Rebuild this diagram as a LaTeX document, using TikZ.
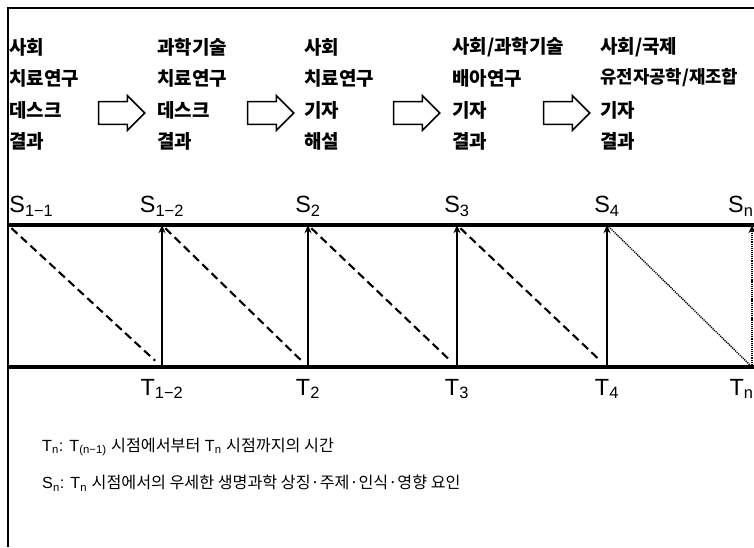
\documentclass[tikz,border=0pt]{standalone}
\usepackage{fontspec}
\setmainfont{Liberation Sans}
\newfontfamily\krfont{Noto Sans CJK KR}[BoldFont={Noto Sans CJK KR Black}]
\usetikzlibrary{shapes.arrows,arrows.meta}

\begin{document}
\begin{tikzpicture}[
  x=0.03cm, y=-0.03cm,
  head/.style={anchor=west, inner sep=0pt, font=\krfont\bfseries\fontsize{16.2}{18}\selectfont},
  stage/.style={single arrow, draw, line width=1.3pt, fill=white, minimum height=1.38cm, minimum width=1cm, inner xsep=0pt, inner ysep=0.32cm, single arrow head extend=0.18cm,
    path picture={\fill (path picture bounding box.south west) rectangle ([xshift=0.3cm]path picture bounding box.north west);}},
  slabel/.style={anchor=south, inner sep=0pt, yshift=7pt, font=\fontsize{20}{22}\selectfont},
  tlabel/.style={anchor=north, inner sep=0pt, yshift=-10pt, font=\fontsize{20}{22}\selectfont},
  note/.style={anchor=west, inner sep=0pt, font=\fontsize{13.8}{16}\selectfont},
  timeline/.style={line width=3.2pt},
  rise/.style={line width=1.8pt, -{Stealth[length=7pt,width=6pt]}},
  drift/.style={line width=1.8pt, dash pattern=on 7pt off 4pt, shorten <=4pt, shorten >=8pt},
  faint/.style={line width=1.2pt, dash pattern=on 1pt off 0.8pt}
]
\clip (0,0) rectangle (754,547);
\useasboundingbox (0,0) rectangle (754,547);

% frame
\draw[line width=1pt] (754,8) -- (8,8) -- (8,547);

% stages of coverage
\node[head] (h11) at (9,47) {사회};
\node[head] (h12) at (9,78) {치료연구};
\node[head] (h13) at (9,110) {데스크};
\node[head] (h14) at (9,141) {결과};

\node[head] (h21) at (157,47) {과학기술};
\node[head] (h22) at (157,78) {치료연구};
\node[head] (h23) at (157,110) {데스크};
\node[head] (h24) at (157,141) {결과};

\node[head] (h31) at (304,47) {사회};
\node[head] (h32) at (304,78) {치료연구};
\node[head] (h33) at (304,110) {기자};
\node[head] (h34) at (304,141) {해설};

\node[head] (h41) at (452,47) {사회/과학기술};
\node[head] (h42) at (452,78) {배아연구};
\node[head] (h43) at (452,110) {기자};
\node[head] (h44) at (452,141) {결과};

\node[head] (h51) at (600,47) {사회/국제};
\node[head, font=\krfont\bfseries\fontsize{15.2}{18}\selectfont] (h52) at (600,78) {유전자공학/재조합};
\node[head] (h53) at (600,110) {기자};
\node[head] (h54) at (600,141) {결과};

\node[stage] (a1) at (116,113) {};
\node[stage] (a2) at (265,113) {};
\node[stage] (a3) at (411,113) {};
\node[stage] (a4) at (561,113) {};

% time points
\coordinate (s0) at (8,225);
\coordinate (s1) at (162,225);
\coordinate (s2) at (308,225);
\coordinate (s3) at (457,225);
\coordinate (s4) at (607,225);
\coordinate (s5) at (752,225);
\coordinate (send) at (754,225);
\coordinate (t0) at (8,367);
\coordinate (t1) at (162,367);
\coordinate (t2) at (308,367);
\coordinate (t3) at (457,367);
\coordinate (t4) at (607,367);
\coordinate (t5) at (752,367);
\coordinate (tend) at (754,367);

\draw[timeline] (s0) -- (send);
\draw[timeline] (t0) -- (tend);

\draw[rise] (t1) -- (s1);
\draw[rise] (t2) -- (s2);
\draw[rise] (t3) -- (s3);
\draw[rise] (t4) -- (s4);
\draw[faint, -{Stealth[length=7pt,width=6pt]}] (t5) -- (s5);

\draw[drift] (s0) -- (t1);
\draw[drift] (s1) -- (t2);
\draw[drift] (s2) -- (t3);
\draw[drift] (s3) -- (t4);
\draw[faint, shorten <=2pt] (s4) -- (t5);

\node[slabel, anchor=south west, xshift=1pt] (S11) at (s0) {S\textsubscript{1−1}};
\node[slabel] (S12) at (s1) {S\textsubscript{1−2}};
\node[slabel] (S2) at (s2) {S\textsubscript{2}};
\node[slabel] (S3) at (s3) {S\textsubscript{3}};
\node[slabel] (S4) at (s4) {S\textsubscript{4}};
\node[slabel, anchor=south east, xshift=1.5pt] (Sn) at (s5) {S\textsubscript{n}};

\node[tlabel] (T12) at (t1) {T\textsubscript{1−2}};
\node[tlabel] (T2) at (t2) {T\textsubscript{2}};
\node[tlabel] (T3) at (t3) {T\textsubscript{3}};
\node[tlabel] (T4) at (t4) {T\textsubscript{4}};
\node[tlabel, anchor=north east, xshift=1.5pt] (Tn) at (t5) {T\textsubscript{n}};

% legend
\node[note] (legT) at (42,447) {T\textsubscript{n}: T\textsubscript{(n−1)} {\krfont 시점에서부터} T\textsubscript{n} {\krfont 시점까지의 시간}};
\node[note] (legS) at (42,483) {S\textsubscript{n}: T\textsubscript{n} {\krfont 시점에서의 우세한 생명과학 상징·주제·인식·영향 요인}};
\end{tikzpicture}
\end{document}
